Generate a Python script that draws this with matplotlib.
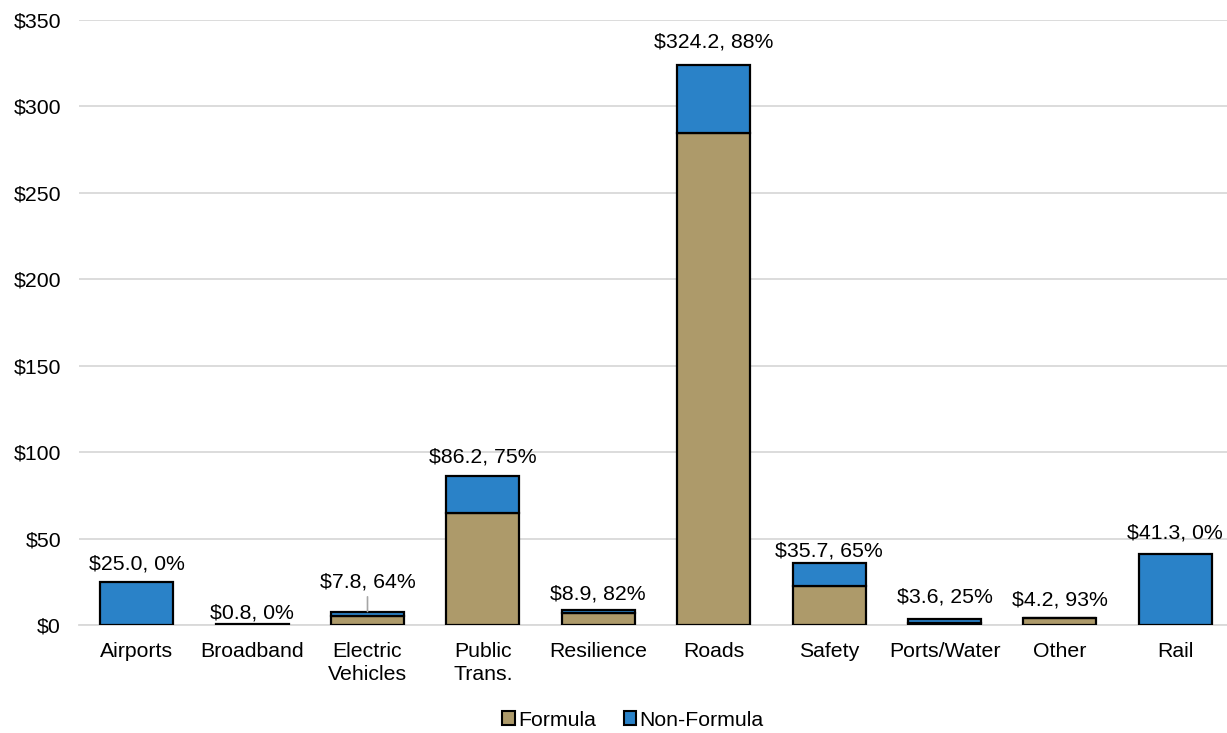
import matplotlib
matplotlib.use("Agg")
import matplotlib.pyplot as plt
from matplotlib.patches import Patch

categories = ["Airports", "Broadband", "Electric\nVehicles", "Public\nTrans.", "Resilience",
              "Roads", "Safety", "Ports/Water", "Other", "Rail"]
formula = [0.0, 0.0, 5.1, 64.9, 7.2, 284.8, 22.6, 0.9, 3.9, 0.0]
non_formula = [25.0, 0.8, 2.7, 21.3, 1.7, 39.4, 13.1, 2.7, 0.3, 41.3]
totals = [25.0, 0.8, 7.8, 86.2, 8.9, 324.2, 35.7, 3.6, 4.2, 41.3]
formula_pct = [0, 0, 64, 75, 82, 88, 65, 25, 93, 0]
y_ticks = [0, 50, 100, 150, 200, 250, 300, 350]

plt.rcParams['font.family'] = ['Liberation Sans', 'DejaVu Sans']

TAN = "#AD9A6A"
BLUE = "#2A82C8"
GRID = "#D9D9D9"
FS = 15.3
# label placement (pixels from bar top to label digit centre), as in the reference
label_gap_px = [20, 13, 32, 21, 18, 25, 14, 24, 20, 23]
DIGIT_HALF_PX = 7.6

fig = plt.figure(figsize=(12.27, 7.33), dpi=100)
ax = fig.add_axes([79 / 1227, 108 / 733, (1227 - 79) / 1227, (625 - 20) / 733])

x = list(range(len(categories)))
w = 0.633
ax.bar(x, formula, width=w, color=TAN, edgecolor="black", linewidth=1.6, zorder=3)
ax.bar(x, non_formula, width=w, bottom=formula, color=BLUE, edgecolor="black", linewidth=1.6, zorder=3)

for i, (t, p) in enumerate(zip(totals, formula_pct)):
    label = f"${t:.1f}, {p}%"
    off_pt = (label_gap_px[i] - DIGIT_HALF_PX) * 0.72
    ax.annotate(label, xy=(i, t), xytext=(0, off_pt), textcoords="offset points",
                ha="center", va="baseline", fontsize=FS, zorder=4)
    if categories[i].startswith("Electric"):
        ax.annotate("", xy=(i, t), xytext=(0, off_pt - 7), textcoords="offset points",
                    arrowprops=dict(arrowstyle="-", color="#A6A6A6", lw=1.2,
                                    shrinkA=0, shrinkB=0))

ax.set_ylim(0, 350)
ax.set_xlim(-0.5, 9.448)
ax.set_yticks(y_ticks)
ax.set_yticklabels([f"${v}" for v in y_ticks], fontsize=FS)
ax.set_xticks(x)
ax.set_xticklabels(categories, fontsize=FS, linespacing=1.25)
ax.tick_params(axis="both", length=0)
ax.tick_params(axis="x", pad=12.5)
ax.tick_params(axis="y", pad=13)
ax.grid(axis="y", color=GRID, linewidth=1.3, zorder=0)
for s in ["top", "right", "left"]:
    ax.spines[s].set_visible(False)
ax.spines["bottom"].set_color(GRID)
ax.spines["bottom"].set_linewidth(1.3)

handles = [Patch(facecolor=TAN, edgecolor="black", linewidth=1.5, label="Formula"),
           Patch(facecolor=BLUE, edgecolor="black", linewidth=1.5, label="Non-Formula")]
fig.legend(handles=handles, loc="center", bbox_to_anchor=(633 / 1227, 13 / 733), ncol=2,
           frameon=False, fontsize=FS, handlelength=0.6, handleheight=0.6,
           handletextpad=0.15, columnspacing=1.3)

fig.savefig("out.png", dpi=100)
